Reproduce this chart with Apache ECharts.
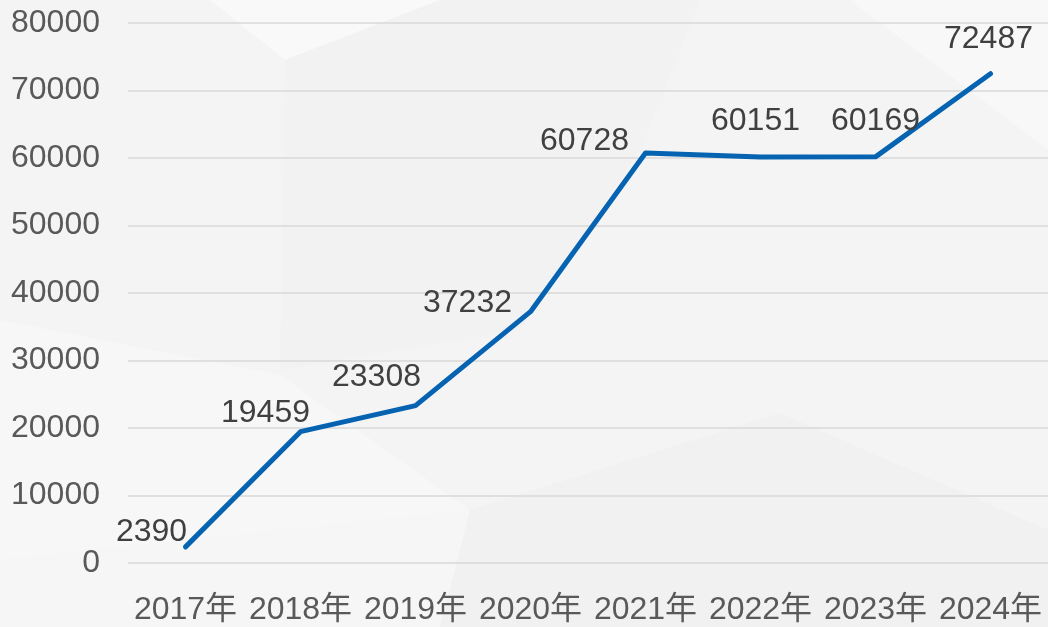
<!DOCTYPE html>
<html>
<head>
<meta charset="utf-8">
<script src="https://cdn.jsdelivr.net/npm/echarts@6/dist/echarts.min.js"></script>
<style>
html,body{margin:0;padding:0;background:#f4f4f5;}
#chart{width:1048px;height:627px;}
</style>
</head>
<body>
<div id="chart"></div>
<script>
const categories = ['2017年','2018年','2019年','2020年','2021年','2022年','2023年','2024年'];
const values = [2390, 19459, 23308, 37232, 60728, 60151, 60169, 72487];
const yTicks = [0, 10000, 20000, 30000, 40000, 50000, 60000, 70000, 80000];

// label offsets (style only): label centre relative to the point
const labelOffsets = [[-34,-15],[-35,-18],[-39,-28],[-63,-9],[-61,-12],[-5,-36],[0,-36],[-2,-35]];

const FONT = '"Liberation Sans", Arial, "Noto Sans CJK SC", sans-serif';
const FS = 32;
const chart = echarts.init(document.getElementById('chart'));

const seriesData = values.map((v, i) => ({
  value: v,
  label: { offset: labelOffsets[i] }
}));

chart.setOption({
  backgroundColor: '#f4f4f5',
  animation: false,
  graphic: [
    { type: 'polygon', silent: true, z: -10, shape: { points: [[210,0],[285,60],[440,0]] }, style: { fill: '#f9f9f9' } },
    { type: 'polygon', silent: true, z: -10, shape: { points: [[285,60],[440,0],[700,0],[640,150],[520,330],[280,370]] }, style: { fill: '#f2f2f3' } },
    { type: 'polygon', silent: true, z: -10, shape: { points: [[850,0],[1048,0],[1048,150]] }, style: { fill: '#f8f8f8' } },
    { type: 'polygon', silent: true, z: -10, shape: { points: [[0,320],[280,375],[470,510],[0,560]] }, style: { fill: '#f7f7f7' } },
    { type: 'polygon', silent: true, z: -10, shape: { points: [[470,510],[780,413],[1048,530],[1048,627],[440,627]] }, style: { fill: '#f1f1f2' } },
    { type: 'polygon', silent: true, z: -10, shape: { points: [[0,560],[470,510],[440,627],[0,627]] }, style: { fill: '#f6f6f6' } }
  ],
  grid: { left: 128, top: 23, width: 925, bottom: 64, containLabel: false },
  xAxis: {
    type: 'category',
    data: categories,
    boundaryGap: true,
    axisLine: { show: false },
    axisTick: { show: false },
    axisLabel: { color: '#595959', fontSize: FS, fontFamily: FONT, margin: 31, interval: 0 }
  },
  yAxis: {
    type: 'value',
    min: yTicks[0],
    max: yTicks[yTicks.length - 1],
    interval: yTicks[1] - yTicks[0],
    axisLine: { show: false },
    axisTick: { show: false },
    axisLabel: { color: '#595959', fontSize: FS, fontFamily: FONT, margin: 28, formatter: v => String(v) },
    splitLine: { lineStyle: { color: '#d9d9d9', width: 1.5 } }
  },
  series: [{
    type: 'line',
    data: seriesData,
    symbol: 'circle',
    symbolSize: 0,
    showSymbol: true,
    itemStyle: { color: '#0563b1' },
    lineStyle: { color: '#0563b1', width: 5, join: 'round', cap: 'round' },
    label: {
      show: true,
      position: 'inside',
      color: '#404040',
      fontSize: FS,
      fontFamily: FONT
    }
  }]
});
</script>
</body>
</html>
